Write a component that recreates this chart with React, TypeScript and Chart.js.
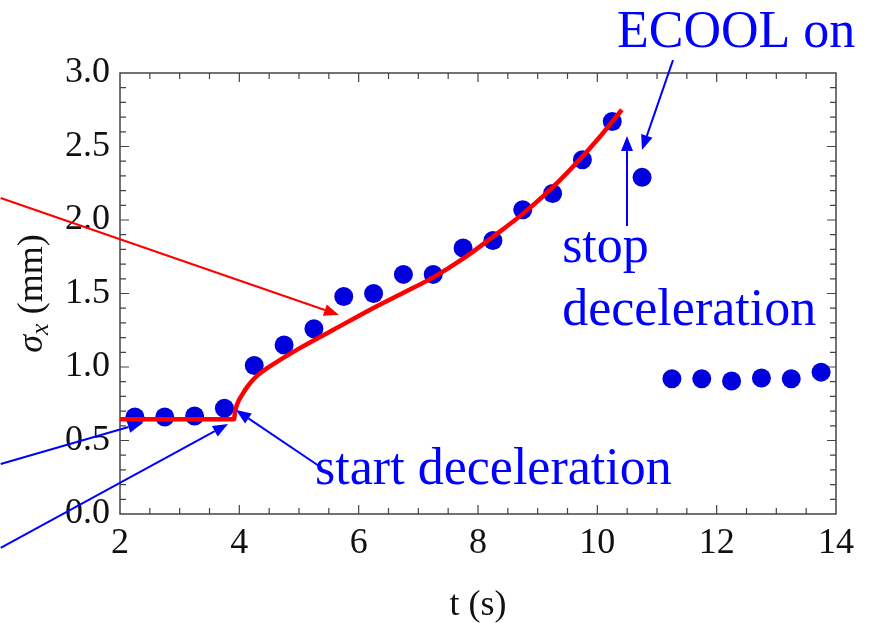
import React, { useEffect, useRef } from "react";
import { Chart, registerables } from "chart.js";

Chart.register(...registerables);

// Measured beam width (mm) vs time (s)
const times = [
  2.25, 2.75, 3.25, 3.75, 4.25, 4.75, 5.25, 5.75, 6.25, 6.75, 7.25, 7.75,
  8.25, 8.75, 9.25, 9.75, 10.25, 10.75, 11.25, 11.75, 12.25, 12.75, 13.25, 13.75,
];
const sigmaX = [
  0.66, 0.66, 0.667, 0.72, 1.01, 1.15, 1.26, 1.48, 1.5, 1.63, 1.63, 1.81,
  1.86, 2.07, 2.18, 2.41, 2.67, 2.29, 0.92, 0.92, 0.905, 0.925, 0.92, 0.965,
];

// Model curve
const fitT = [2.0, 3.91, 3.93, 4.06, 4.18, 4.31, 4.46, 5.02, 5.57, 6.24, 6.75, 7.25, 7.75, 8.25, 8.76, 9.37, 10.04, 10.41];
const fitSigma = [0.644, 0.644, 0.7, 0.82, 0.89, 0.945, 0.99, 1.13, 1.252, 1.4, 1.505, 1.61, 1.737, 1.886, 2.045, 2.27, 2.565, 2.75];

// Axis ranges and tick spacing
const xRange = [2, 14];
const yRange = [0, 3];
const xMajor = 2;
const xMinor = 0.5;
const yMajor = 0.5;
const yMinor = 0.1;

// Annotation arrows in (t, sigma) units: [fromT, fromS, toT, toS]
const redArrows = [[0.0, 2.15, 5.67, 1.354]];
const blueArrows = [
  [0.0, 0.34, 2.385, 0.62],
  [0.0, -0.23, 3.81, 0.612],
  [5.385, 0.313, 3.944, 0.707],
  [10.497, 1.959, 10.497, 2.571],
  [11.268, 3.088, 10.748, 2.476],
];

// Annotation labels: [text, t, sigma] (left edge, baseline)
const notes: [string, number, number][] = [
  ["start deceleration", 5.27, 0.204],
  ["stop", 9.41, 1.714],
  ["deceleration", 9.41, 1.286],
  ["ECOOL on", 10.33, 3.18],
];

const SERIF = "'Liberation Serif', 'DejaVu Serif', serif";

function drawArrow(ctx: CanvasRenderingContext2D, x0: number, y0: number, x1: number, y1: number, color: string, width: number) {
  const ang = Math.atan2(y1 - y0, x1 - x0);
  const head = 15;
  const half = 6;
  const bx = x1 - head * Math.cos(ang);
  const by = y1 - head * Math.sin(ang);
  ctx.save();
  ctx.strokeStyle = color;
  ctx.fillStyle = color;
  ctx.lineWidth = width;
  ctx.beginPath();
  ctx.moveTo(x0, y0);
  ctx.lineTo(bx, by);
  ctx.stroke();
  ctx.beginPath();
  ctx.moveTo(x1, y1);
  ctx.lineTo(bx + half * Math.sin(ang), by - half * Math.cos(ang));
  ctx.lineTo(bx - half * Math.sin(ang), by + half * Math.cos(ang));
  ctx.closePath();
  ctx.fill();
  ctx.restore();
}

const framePlugin = {
  id: "frameTicks",
  beforeDatasetsDraw(chart: any) {
    const { ctx, chartArea: a, scales } = chart;
    const xs = scales.x;
    const ys = scales.y;
    ctx.save();
    ctx.strokeStyle = "#444";
    ctx.lineWidth = 1.5;
    ctx.strokeRect(a.left, a.top, a.right - a.left, a.bottom - a.top);
    ctx.lineWidth = 1.2;
    ctx.beginPath();
    const nx = Math.round((xRange[1] - xRange[0]) / xMinor);
    for (let i = 1; i < nx; i++) {
      const v = xRange[0] + i * xMinor;
      const major = Math.abs(v / xMajor - Math.round(v / xMajor)) < 1e-6;
      const len = major ? 9 : 6;
      const px = xs.getPixelForValue(v);
      ctx.moveTo(px, a.bottom);
      ctx.lineTo(px, a.bottom - len);
      ctx.moveTo(px, a.top);
      ctx.lineTo(px, a.top + len);
    }
    const ny = Math.round((yRange[1] - yRange[0]) / yMinor);
    for (let i = 1; i < ny; i++) {
      const v = yRange[0] + i * yMinor;
      const major = Math.abs(v / yMajor - Math.round(v / yMajor)) < 1e-6;
      const len = major ? 9 : 6;
      const py = ys.getPixelForValue(v);
      ctx.moveTo(a.left, py);
      ctx.lineTo(a.left + len, py);
      ctx.moveTo(a.right, py);
      ctx.lineTo(a.right - len, py);
    }
    ctx.stroke();
    ctx.restore();
  },
  afterDraw(chart: any) {
    const { ctx, chartArea: a, scales } = chart;
    const xs = scales.x;
    const ys = scales.y;
    const P = (t: number, s: number) => [xs.getPixelForValue(t), ys.getPixelForValue(s)];

    for (const r of redArrows) {
      const [x0, y0] = P(r[0], r[1]);
      const [x1, y1] = P(r[2], r[3]);
      drawArrow(ctx, x0, y0, x1, y1, "#ff0000", 2);
    }
    for (const r of blueArrows) {
      const [x0, y0] = P(r[0], r[1]);
      const [x1, y1] = P(r[2], r[3]);
      drawArrow(ctx, x0, y0, x1, y1, "#0000ff", 2);
    }

    ctx.save();
    ctx.fillStyle = "#0000ff";
    ctx.font = `52px ${SERIF}`;
    ctx.textAlign = "left";
    ctx.textBaseline = "alphabetic";
    for (const [txt, t, s] of notes) {
      const [x, y] = P(t, s);
      ctx.fillText(txt, x, y);
    }
    ctx.restore();

    // axis titles
    ctx.save();
    ctx.fillStyle = "#111";
    ctx.font = `36px ${SERIF}`;
    ctx.textAlign = "center";
    ctx.textBaseline = "middle";
    ctx.fillText("t (s)", (a.left + a.right) / 2, 606);

    ctx.translate(30, (a.top + a.bottom) / 2);
    ctx.rotate(-Math.PI / 2);
    const fMain = `italic 36px ${SERIF}`;
    const fSub = `italic 26px ${SERIF}`;
    const fRest = `36px ${SERIF}`;
    ctx.textAlign = "left";
    ctx.textBaseline = "alphabetic";
    ctx.font = fMain;
    const wS = ctx.measureText("\u03c3").width;
    ctx.font = fSub;
    const wX = ctx.measureText("x").width;
    ctx.font = fRest;
    const wR = ctx.measureText(" (mm)").width;
    const total = wS + wX + wR;
    let x = -total / 2;
    const base = 12;
    ctx.font = fMain;
    ctx.fillText("\u03c3", x, base);
    x += wS;
    ctx.font = fSub;
    ctx.fillText("x", x, base + 6);
    x += wX;
    ctx.font = fRest;
    ctx.fillText(" (mm)", x, base);
    ctx.restore();
  },
};

export default function App() {
  const ref = useRef<HTMLCanvasElement>(null);

  useEffect(() => {
    if (!ref.current) return;
    const chart = new Chart(ref.current, {
      type: "scatter",
      data: {
        datasets: [
          {
            label: "model",
            data: fitT.map((t, i) => ({ x: t, y: fitSigma[i] })),
            showLine: true,
            borderColor: "#ff0000",
            borderWidth: 4.5,
            pointRadius: 0,
            cubicInterpolationMode: "monotone",
            order: 0,
          },
          {
            label: "measured",
            data: times.map((t, i) => ({ x: t, y: sigmaX[i] })),
            backgroundColor: "#0000de",
            borderWidth: 0,
            pointRadius: 9.5,
            order: 1,
          },
        ],
      },
      options: {
        animation: false,
        responsive: false,
        devicePixelRatio: 1,
        layout: { padding: { top: 73, right: 33, left: 0, bottom: 0 } },
        plugins: { legend: { display: false }, tooltip: { enabled: false } },
        scales: {
          x: {
            type: "linear",
            min: xRange[0],
            max: xRange[1],
            border: { display: false },
            grid: { display: false, drawTicks: false },
            ticks: {
              stepSize: xMajor,
              autoSkip: false,
              maxRotation: 0,
              padding: 8,
              color: "#111",
              font: { family: SERIF, size: 36 },
            },
            afterFit: (s: any) => {
              s.height = 109;
            },
          },
          y: {
            type: "linear",
            min: yRange[0],
            max: yRange[1],
            border: { display: false },
            grid: { display: false, drawTicks: false },
            ticks: {
              stepSize: yMajor,
              padding: 10,
              color: "#111",
              font: { family: SERIF, size: 36 },
              callback: (v: any) => Number(v).toFixed(1),
            },
            afterFit: (s: any) => {
              s.width = 120;
            },
          },
        },
      },
      plugins: [framePlugin],
    });
    return () => chart.destroy();
  }, []);

  return (
    <div style={{ position: "fixed", left: 0, top: 0, width: 869, height: 623, background: "#fff" }}>
      <canvas ref={ref} width={869} height={623} style={{ display: "block" }} />
    </div>
  );
}
